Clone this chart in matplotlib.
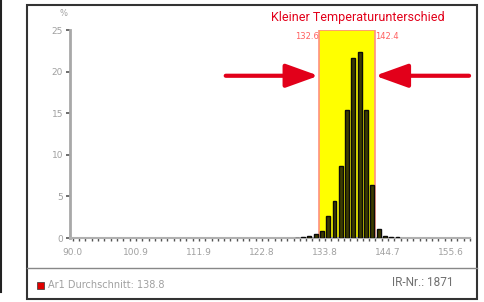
import numpy as np
import matplotlib
matplotlib.use("Agg")
import matplotlib.pyplot as plt
from matplotlib.patches import Rectangle
from matplotlib.lines import Line2D

# data
bin_start = 90.0
bin_width = 1.093
bin_index = [35, 36, 37, 38, 39, 40, 41, 42, 43, 44, 45, 46, 47, 48, 49, 50, 51]
percent = [0.05, 0.15, 0.25, 0.5, 0.9, 2.6, 4.4, 8.6, 15.4, 21.6, 22.3, 15.4, 6.4, 1.1, 0.3, 0.15, 0.1]
xtick_labels = ["90.0", "100.9", "111.9", "122.8", "133.8", "144.7", "155.6"]
yticks = [0, 5, 10, 15, 20, 25]
band_lo, band_hi = 132.6, 142.4
title = "Kleiner Temperaturunterschied"
legend_text = "Ar1 Durchschnitt: 138.8"
ir_text = "IR-Nr.: 1871"

red = "#e2001a"
grey = "#a0a0a0"

fig = plt.figure(figsize=(4.84, 3.02), dpi=100)
W, H = 484, 302

def fx(px):
    return px / W

def fy(py):
    return 1 - py / H

ax = fig.add_axes([fx(70), fy(238), fx(470) - fx(70), fy(30) - fy(238)])

centers = [bin_start + bin_width * (k + 0.5) for k in bin_index]
ax.axvspan(band_lo, band_hi, ymin=0, ymax=1, facecolor="#ffff00",
           edgecolor="#ff9080", lw=1.2, zorder=1)
ax.bar(centers, percent, width=bin_width * 0.62, color="#3c3c00",
       edgecolor="#0a0a0a", lw=1.0, zorder=3)

ax.set_xlim(89.5, 158.7)
ax.set_ylim(0, 25)

major = [bin_start + 10 * bin_width * j for j in range(len(xtick_labels))]
ax.set_xticks(major)
ax.set_xticklabels(xtick_labels)
ax.set_xticks([bin_start + bin_width * k for k in range(64)], minor=True)
ax.set_yticks(yticks)
ax.set_yticklabels([str(v) for v in yticks])
ax.tick_params(axis="x", which="both", direction="out", length=2.5, width=1,
               color="#555555", labelsize=6.5, labelcolor=grey, pad=5)
ax.tick_params(axis="y", direction="out", length=3, width=1.2,
               color="#555555", labelsize=6.5, labelcolor=grey, pad=2)
for s in ["top", "right"]:
    ax.spines[s].set_visible(False)
ax.spines["left"].set_color("#a8a8a8")
ax.spines["left"].set_linewidth(2)
ax.spines["bottom"].set_color("#b0b0b0")
ax.spines["bottom"].set_linewidth(1.5)

# band limit labels
ax.text(band_lo, 24.2, "132.6", color="#ff6060", fontsize=6, ha="right", va="center")
ax.text(band_hi, 24.2, "142.4", color="#ff6060", fontsize=6, ha="left", va="center")

# arrows pointing at the band edges
ap = dict(arrowstyle="-|>,head_length=1.0,head_width=0.36", color=red, lw=3,
          shrinkA=0, shrinkB=0, mutation_scale=20)
ax.annotate("", xy=(band_lo, 19.5), xytext=(116.5, 19.5), arrowprops=ap,
            annotation_clip=False, zorder=5)
ax.annotate("", xy=(band_hi, 19.5), xytext=(158.7, 19.5), arrowprops=ap,
            annotation_clip=False, zorder=5)

fig.text(fx(358), fy(17), title, color=red, fontsize=9, family="Roboto",
         ha="center", va="center")
fig.text(fx(63), fy(14), "%", color=grey, fontsize=6, ha="center", va="center")

# frame and legend box
fig.add_artist(Rectangle((fx(27), fy(299)), fx(477) - fx(27), fy(5) - fy(299),
                         transform=fig.transFigure, fill=False,
                         edgecolor="#333333", lw=1.5))
fig.add_artist(Line2D([fx(27), fx(477)], [fy(268), fy(268)],
                      transform=fig.transFigure, color="#888888", lw=1))
fig.add_artist(Line2D([fx(1), fx(1)], [fy(0), fy(292)],
                      transform=fig.transFigure, color="#222222", lw=1.5))
fig.add_artist(Rectangle((fx(37), fy(289)), fx(7), fy(282) - fy(289),
                         transform=fig.transFigure, facecolor="#e00000",
                         edgecolor="#333333", lw=0.5))
fig.text(fx(48), fy(285), legend_text, color=grey, fontsize=7, va="center")
fig.text(fx(453), fy(283), ir_text, color="#707070", fontsize=8.5,
         family="Roboto", ha="right", va="center")

fig.savefig("out.png", dpi=100)
